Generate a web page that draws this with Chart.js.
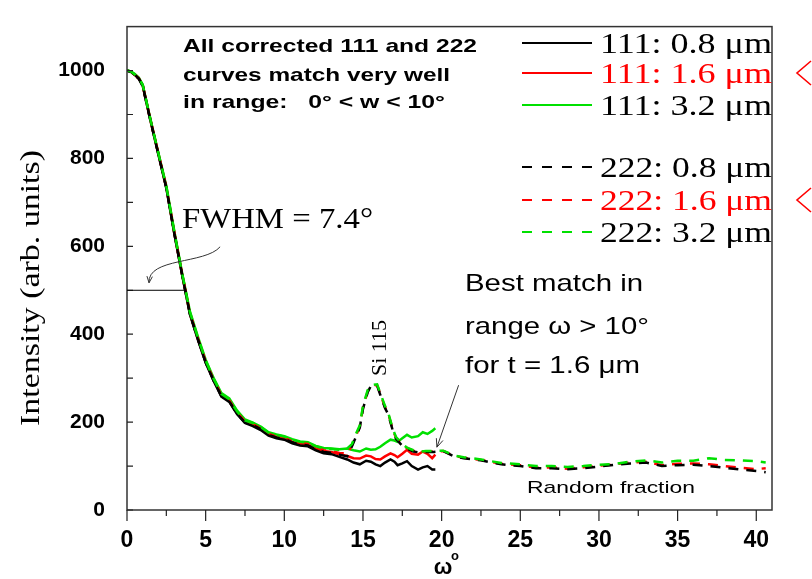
<!DOCTYPE html>
<html lang="en">
<head>
<meta charset="UTF-8">
<title>Intensity vs omega</title>
<script src="https://cdn.jsdelivr.net/npm/chart.js"></script>
<style>
  html, body { margin: 0; padding: 0; background: #fff; }
  #wrap { width: 812px; height: 579px; }
</style>
</head>
<body>
<div id="wrap"><canvas id="chart" width="812" height="579"></canvas></div>
<script>
// 111 reflection, solid lines
const omega111 = [0, 0.25, 0.5, 0.75, 1, 1.25, 1.5, 2, 2.5, 3, 3.5, 4, 4.5, 5, 5.5, 6, 6.5, 7, 7.5, 8,
  8.5, 9, 9.5, 10, 10.5, 11, 11.5, 12, 12.5, 13, 13.5, 14, 14.4, 14.8, 15.2, 15.5, 15.8, 16.1, 16.4, 16.75,
  17, 17.2, 17.5, 17.8, 18.1, 18.5, 18.8, 19.1, 19.4, 19.6];
const i111_08 = [1000, 997, 990, 982, 966, 925, 885, 808, 732, 630, 535, 445, 388, 335, 294, 258, 246, 218, 198, 191,
  182, 169, 163, 160, 152, 147, 145, 136, 129, 127, 121, 115, 108, 104, 112, 110, 104, 100, 108, 115,
  110, 102, 106, 111, 100, 92, 97, 100, 92, 92];
const i111_16 = [1000, 997, 990, 982, 966, 926, 886, 810, 734, 632, 537, 447, 390, 337, 296, 260, 248, 220, 201, 194,
  185, 172, 166, 163, 155, 151, 148, 140, 134, 132, 127, 123, 118, 117, 124, 122, 116, 115, 122, 129,
  125, 120, 128, 137, 128, 126, 133, 128, 118, 126];
const i111_32 = [1000, 998, 992, 984, 968, 928, 888, 812, 738, 636, 540, 452, 395, 342, 301, 266, 254, 226, 206, 199,
  190, 177, 172, 168, 161, 156, 154, 146, 141, 140, 138, 140, 136, 133, 140, 137, 138, 144, 152, 160,
  158, 155, 163, 171, 165, 168, 177, 173, 180, 186];

// 222 reflection, dashed lines (Si 115 peak near 15.7 deg)
const omega222 = [0, 0.25, 0.5, 0.75, 1, 1.25, 1.5, 2, 2.5, 3, 3.5, 4, 4.5, 5, 5.5, 6, 6.5, 7, 7.5, 8,
  8.5, 9, 9.5, 10, 10.5, 11, 11.5, 12, 12.5, 13, 13.5, 14,
  14.3, 14.6, 14.8, 15, 15.3, 15.5, 15.9, 16.1, 16.4, 16.6, 16.9, 17.1, 17.5, 17.8, 18.2, 18.6, 19, 19.5,
  20.1, 20.8, 21.4, 22.5, 23.8, 25, 26, 27, 28, 29, 30, 31, 32, 33, 34, 35, 36, 37, 38, 39, 40, 40.6];
const i222_08 = [1000, 996, 989, 981, 964, 924, 884, 809, 733, 631, 536, 446, 389, 336, 295, 259, 247, 219, 199, 193,
  184, 171, 165, 162, 154, 149, 147, 139, 132, 130, 126, 122,
  145, 170, 188, 230, 268, 282, 283, 262, 232, 218, 180, 162, 146, 140, 133, 131, 132, 132,
  134, 122, 118, 113, 104, 100, 95, 95, 93, 95, 99, 103, 106, 108, 100, 102, 103, 100, 96, 92, 89, 86];
const i222_16 = [1000, 997, 990, 982, 965, 925, 885, 810, 734, 632, 537, 447, 390, 338, 297, 261, 249, 221, 201, 195,
  186, 173, 167, 164, 156, 152, 150, 142, 136, 134, 130, 128,
  147, 173, 190, 233, 270, 283, 284, 264, 234, 220, 182, 164, 148, 141, 135, 133, 133, 133,
  134, 123, 119, 114, 105, 102, 96, 97, 94, 97, 101, 104, 108, 110, 102, 105, 106, 104, 100, 96, 93, 95];
const i222_32 = [1000, 998, 991, 983, 967, 927, 887, 811, 736, 634, 539, 450, 393, 340, 299, 264, 252, 224, 204, 198,
  189, 176, 171, 167, 160, 155, 153, 145, 140, 139, 137, 140,
  150, 177, 193, 237, 273, 284, 286, 266, 237, 222, 184, 166, 150, 142, 136, 133, 134, 134,
  135, 124, 120, 115, 107, 104, 100, 100, 98, 100, 103, 105, 110, 113, 108, 112, 112, 118, 114, 113, 111, 108];

const xMajor = [0, 5, 10, 15, 20, 25, 30, 35, 40];
const xMinor = [2.5, 7.5, 12.5, 17.5, 22.5, 27.5, 32.5, 37.5];
const yTicksAll = [0, 100, 200, 300, 400, 500, 600, 700, 800, 900, 1000];

const legendLabels = ['111: 0.8 μm', '111: 1.6 μm', '111: 3.2 μm', '222: 0.8 μm', '222: 1.6 μm', '222: 3.2 μm'];
const legendColors = ['#000000', '#ff0000', '#00e000', '#000000', '#ff0000', '#00e000'];
const legendTextColors = ['#000', '#ff0000', '#000', '#000', '#ff0000', '#000'];

const SERIF = "'Liberation Serif', 'Times New Roman', serif";
const SANS = "'Liberation Sans', Arial, sans-serif";

function pts(xs, ys) {
  return xs.map((x, i) => ({ x: x, y: ys[i] }));
}

// draw text squeezed/stretched to a given width (the original figure is stretched)
function fitText(ctx, text, x, y, width) {
  const w = ctx.measureText(text).width;
  ctx.save();
  ctx.translate(x, y);
  ctx.scale(width / w, 1);
  ctx.fillText(text, 0, 0);
  ctx.restore();
}

function arrowHead(ctx, x1, y1, x2, y2, size) {
  const a = Math.atan2(y2 - y1, x2 - x1);
  ctx.beginPath();
  ctx.moveTo(x2 - size * Math.cos(a - 0.4), y2 - size * Math.sin(a - 0.4));
  ctx.lineTo(x2, y2);
  ctx.lineTo(x2 - size * Math.cos(a + 0.4), y2 - size * Math.sin(a + 0.4));
  ctx.stroke();
}

const decor = {
  id: 'decor',
  afterDraw(chart) {
    const ctx = chart.ctx;
    const xs = chart.scales.x, ys = chart.scales.y;
    const a = chart.chartArea;
    ctx.save();

    // frame
    ctx.strokeStyle = '#333';
    ctx.lineWidth = 1.5;
    ctx.strokeRect(a.left, a.top, a.right - a.left, a.bottom - a.top);

    // x ticks, outward
    ctx.strokeStyle = '#222';
    ctx.lineWidth = 1.2;
    ctx.beginPath();
    xMajor.forEach(v => { const p = xs.getPixelForValue(v); ctx.moveTo(p, a.bottom); ctx.lineTo(p, a.bottom + 11); });
    xMinor.forEach(v => { const p = xs.getPixelForValue(v); ctx.moveTo(p, a.bottom); ctx.lineTo(p, a.bottom + 6); });
    // y ticks, inward
    yTicksAll.forEach(v => { const p = ys.getPixelForValue(v); ctx.moveTo(a.left, p); ctx.lineTo(a.left + 6, p); });
    ctx.stroke();

    // FWHM marker line at half maximum
    ctx.strokeStyle = '#000';
    ctx.lineWidth = 1;
    ctx.beginPath();
    ctx.moveTo(xs.getPixelForValue(0), ys.getPixelForValue(500));
    ctx.lineTo(xs.getPixelForValue(3.7), ys.getPixelForValue(500));
    ctx.stroke();

    // curved arrow from FWHM label
    ctx.strokeStyle = '#333';
    ctx.beginPath();
    const c0 = [xs.getPixelForValue(5.92), ys.getPixelForValue(599)];
    const c1 = [xs.getPixelForValue(4.97), ys.getPixelForValue(559)];
    const c2 = [xs.getPixelForValue(1.3), ys.getPixelForValue(575)];
    const c3 = [xs.getPixelForValue(1.4), ys.getPixelForValue(517)];
    ctx.moveTo(c0[0], c0[1]);
    ctx.bezierCurveTo(c1[0], c1[1], c2[0], c2[1], c3[0], c3[1]);
    ctx.stroke();
    arrowHead(ctx, c3[0] + 1, c3[1] - 10, c3[0], c3[1], 7);

    // straight arrow from "Best match" text
    const b0 = [xs.getPixelForValue(21.08), ys.getPixelForValue(284)];
    const b1 = [xs.getPixelForValue(19.7), ys.getPixelForValue(143)];
    ctx.beginPath();
    ctx.moveTo(b0[0], b0[1]);
    ctx.lineTo(b1[0], b1[1]);
    ctx.stroke();
    arrowHead(ctx, b0[0], b0[1], b1[0], b1[1], 9);

    // texts
    ctx.fillStyle = '#000';
    ctx.textAlign = 'left';
    ctx.textBaseline = 'alphabetic';
    ctx.font = 'bold 19px ' + SANS;
    fitText(ctx, 'All corrected 111 and 222', 183, 52, 294);
    fitText(ctx, 'curves match very well', 183, 81, 267);
    fitText(ctx, 'in range:   0° < w < 10°', 183, 108, 262);

    ctx.font = '29px ' + SERIF;
    fitText(ctx, 'FWHM = 7.4°', 182, 228, 191);

    ctx.font = '24px ' + SANS;
    fitText(ctx, 'Best match in', 465, 291, 178);
    fitText(ctx, 'range ω > 10°', 465, 334, 184);
    fitText(ctx, 'for t = 1.6 μm', 465, 373, 175);

    ctx.font = '17px ' + SANS;
    fitText(ctx, 'Random fraction', 527, 493, 168);

    // Si 115 label, rotated
    ctx.save();
    ctx.translate(386, 376);
    ctx.rotate(-Math.PI / 2);
    ctx.font = '22px ' + SERIF;
    ctx.fillText('Si 115', 0, 0);
    ctx.restore();

    // axis titles
    ctx.save();
    ctx.translate(39, 288);
    ctx.rotate(-Math.PI / 2);
    ctx.textAlign = 'left';
    ctx.font = '27px ' + SERIF;
    fitText(ctx, 'Intensity (arb. units)', -138, 0, 276);
    ctx.restore();

    ctx.font = 'bold 22px ' + SANS;
    ctx.textAlign = 'center';
    ctx.fillText('ω', 443, 574);
    ctx.font = 'bold 13px ' + SANS;
    ctx.fillText('o', 455, 560);

    // legend
    ctx.textAlign = 'left';
    const rowY = [43, 73, 105, 167, 200, 232];
    rowY.forEach((y, i) => {
      ctx.strokeStyle = legendColors[i];
      ctx.lineWidth = 2;
      ctx.setLineDash(i < 3 ? [] : [10, 10]);
      ctx.beginPath();
      ctx.moveTo(522, y);
      ctx.lineTo(592, y);
      ctx.stroke();
      ctx.setLineDash([]);
      ctx.fillStyle = legendTextColors[i];
      ctx.font = '29px ' + SERIF;
      fitText(ctx, legendLabels[i], 600, y + 10, 172);
    });

    // red chevrons marking the 1.6 um rows
    ctx.strokeStyle = '#ff0000';
    ctx.lineWidth = 1.6;
    [rowY[1], rowY[4]].forEach(y => {
      ctx.beginPath();
      ctx.moveTo(811, y - 12);
      ctx.lineTo(797, y);
      ctx.lineTo(811, y + 12);
      ctx.stroke();
    });

    ctx.restore();
  }
};

function solid(label, xs, ys, color, order) {
  return { label: label, data: pts(xs, ys), borderColor: color, borderWidth: 2.5,
    pointRadius: 0, tension: 0, fill: false, order: order };
}
function dashed(label, xs, ys, color, offset, order) {
  return { label: label, data: pts(xs, ys), borderColor: color, borderWidth: 2.5,
    borderDash: [10, 8], borderDashOffset: offset, pointRadius: 0, tension: 0, fill: false, order: order };
}

new Chart(document.getElementById('chart').getContext('2d'), {
  type: 'line',
  data: {
    datasets: [
      dashed('222: 3.2 μm', omega222, i222_32, '#00e000', 0, 0),
      solid('111: 0.8 μm', omega111, i111_08, '#000000', 1),
      dashed('222: 0.8 μm', omega222, i222_08, '#000000', 6, 2),
      dashed('222: 1.6 μm', omega222, i222_16, '#ff0000', 12, 3),
      solid('111: 1.6 μm', omega111, i111_16, '#ff0000', 4),
      solid('111: 3.2 μm', omega111, i111_32, '#00e000', 5)
    ]
  },
  options: {
    responsive: false,
    animation: false,
    layout: { padding: { top: 14, right: 40, bottom: 0, left: 0 } },
    plugins: { legend: { display: false }, tooltip: { enabled: false } },
    scales: {
      x: {
        type: 'linear',
        min: 0,
        max: 41,
        grid: { display: false },
        border: { display: false },
        ticks: { stepSize: 5, includeBounds: false, color: '#000', padding: 9,
          font: { family: "'Liberation Sans Narrow', 'Arial Narrow', " + SANS, size: 23, weight: 'bold' } },
        afterFit: s => { s.height = 69; }
      },
      y: {
        min: 0,
        max: 1100,
        grid: { display: false },
        border: { display: false },
        ticks: { stepSize: 200, includeBounds: false, color: '#000', padding: 14,
          callback: v => String(v),
          font: { family: SANS, size: 21, weight: 'bold' } },
        afterFit: s => { s.width = 127; }
      }
    }
  },
  plugins: [decor]
});
</script>
</body>
</html>
